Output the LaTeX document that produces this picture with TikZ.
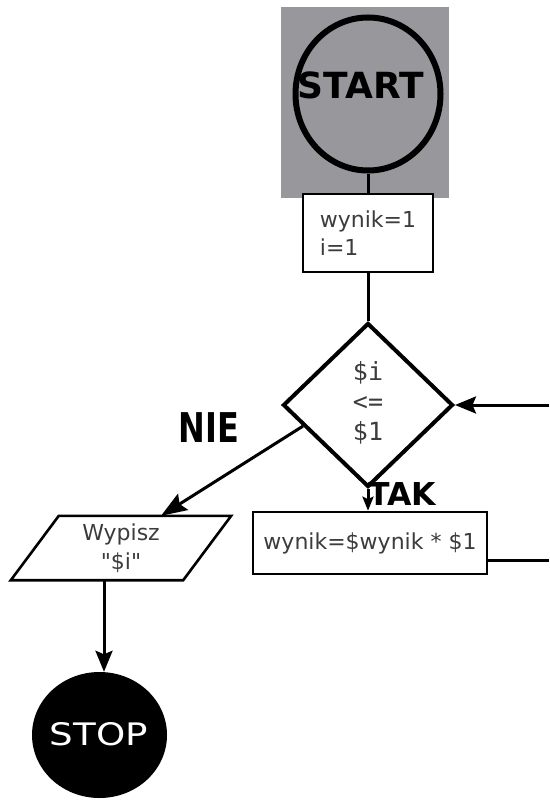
\documentclass[tikz,border=0pt]{standalone}
\usepackage{fontspec}
\setmainfont{DejaVu Sans}[Ligatures=TeXOff]
\newfontfamily\condface{DejaVu Sans Mono}
\newfontfamily\nieface[FakeStretch=0.78]{DejaVu Sans}
\newfontfamily\stopface[FakeStretch=1.2]{DejaVu Sans}
\usetikzlibrary{arrows.meta,shapes.geometric}
\definecolor{startgray}{RGB}{152,152,156}
\definecolor{txtgray}{RGB}{60,60,60}
\begin{document}
\begin{tikzpicture}[x=1pt,y=-1pt,
    line/.style={line width=3pt},
    arr/.style={line width=3pt,-{Stealth[length=21pt,width=17pt,inset=3.5pt]}},
    box/.style={draw,line width=2.6pt,fill=white,text=txtgray,font=\fontsize{22}{28}\selectfont}]
    \useasboundingbox (0,0) rectangle (549,800);
    \fill[startgray] (281,7) rectangle (449,198);
    \node[ellipse,draw,line width=6pt,minimum width=145pt,minimum height=153pt] (start) at (368,94) {};
    \node[font=\fontsize{36}{36}\bfseries] (starttxt) at (361,85) {START};
    \node[box,align=left,minimum width=130pt,minimum height=78pt] (init) at (368,233) {wynik=1\\i=1};
    \node[diamond,draw,line width=4pt,fill=white,minimum width=170pt,minimum height=164pt] (dec) at (368,405) {};
    \node[text=txtgray,align=center,font=\condface\fontsize{25}{30}\selectfont] (cond) at (368,403) {\$i\\<=\\\$1};
    \node[box,minimum width=234pt,minimum height=62pt] (calc) at (370,543) {wynik=\$wynik * \$1};
    \node[text=txtgray,align=center,minimum width=172pt,minimum height=64pt,font=\fontsize{22}{29}\selectfont] (out) at (121,548) {Wypisz\\"\$i"};
    \draw[line width=2.6pt] ([xshift=24pt]out.north west) -- ([xshift=24pt]out.north east)
        -- ([xshift=-24pt]out.south east) -- ([xshift=-24pt]out.south west) -- cycle;
    \node[ellipse,fill=black,minimum width=135pt,minimum height=126pt] (stop) at (99.5,735) {};
    \node[text=white,font=\stopface\fontsize{31}{31}\selectfont] (stoptxt) at (99,734) {STOP};
    \node[font=\nieface\fontsize{41}{41}\bfseries] (nie) at (209,428) {NIE};
    \node[font=\fontsize{31.5}{31.5}\bfseries] (tak) at (402,494) {TAK};
    \coordinate (backr) at (549,560);
    \coordinate (backd) at (549,405);
    % connectors
    \draw[line] (start) -- (init);
    \draw[line] (init) -- (dec);
    \draw[line,-{Stealth[length=14pt,width=11pt,inset=2.5pt]}] (dec.south) -- (dec.south |- calc.north);
    \draw[line] (calc.east |- backr) -- (backr);
    \draw[arr] (backd) -- (dec.east);
    \draw[arr,-{Stealth[length=26pt,width=19pt,inset=4pt]}] (dec.198) -- ([xshift=40pt]out.north);
    \draw[arr] ([xshift=-17pt]out.south) -- ([xshift=-17pt]out.south |- stop.north);
\end{tikzpicture}
\end{document}
